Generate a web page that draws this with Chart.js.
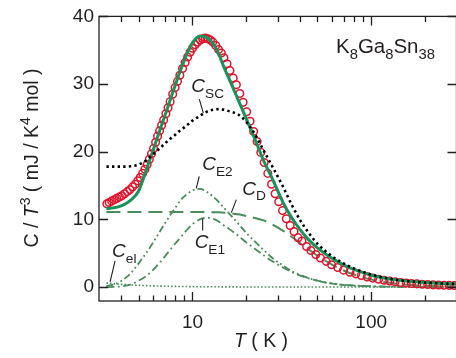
<!DOCTYPE html>
<html>
<head>
<meta charset="utf-8">
<script src="https://cdn.jsdelivr.net/npm/chart.js@4.4.1/dist/chart.umd.min.js"></script>
<style>
  html, body { margin: 0; padding: 0; overflow: hidden; background: #fff; }
  #wrap { width: 462px; height: 358px; }
</style>
</head>
<body>
<div id="wrap"><canvas id="heatChart"></canvas></div>
<script>
// measured C/T^3 (mJ / K^4 mol) vs T (K)
const tempData = [3.32, 3.42, 3.53, 3.65, 3.77, 3.9, 4.02, 4.17, 4.32, 4.47, 4.62, 4.78, 4.94, 5.1, 5.26, 5.42,
  5.58, 5.74, 5.9, 6.06, 6.22, 6.38, 6.55, 6.72, 6.9, 7.1, 7.3, 7.5, 7.75, 8.0, 8.25, 8.5, 8.8, 9.1, 9.4, 9.7,
  10.0, 10.35, 10.7, 11.05, 11.4, 11.8, 12.2, 12.6, 13.0, 13.5, 14.0, 14.5, 15.0, 15.6, 16.2, 16.9, 17.6, 18.4,
  19.2, 20.1, 21.0, 22.0, 23.0, 24.1, 25.2, 26.4, 27.7, 29.0, 30.4, 31.9, 33.5, 35.2, 37.0, 39.0, 41.0, 43.5,
  46, 49, 52, 56, 60, 65, 70, 76, 82, 88, 95, 102, 110, 118, 127, 136, 146, 157, 168, 180, 193, 207, 222, 238,
  255, 273, 292];
const cData = [12.3, 12.5, 12.7, 12.9, 13.1, 13.3, 13.5, 13.8, 14.1, 14.4, 14.8, 15.2, 15.7, 16.2, 16.8, 17.4,
  18.1, 18.9, 19.7, 20.5, 21.4, 22.3, 23.1, 23.9, 24.7, 25.6, 26.5, 27.4, 28.5, 29.5, 30.4, 31.3, 32.3, 33.2, 34.0, 34.7,
  35.3, 35.8, 36.2, 36.5, 36.7, 36.8, 36.7, 36.5, 36.2, 35.7, 35.1, 34.6, 33.9, 33.0, 32.0, 30.9, 29.9, 28.6,
  27.3, 25.9, 24.5, 23.0, 21.5, 19.9, 18.4, 16.8, 15.2, 13.8, 12.6, 11.3, 10.1, 9.1, 8.2, 7.3, 6.8, 6.0,
  5.4, 4.8, 4.3, 3.8, 3.3, 2.9, 2.5, 2.2, 1.95, 1.72, 1.5, 1.32, 1.15, 1.0, 0.88, 0.78, 0.68, 0.6, 0.53, 0.47, 0.42, 0.37, 0.33, 0.3,
  0.27, 0.25, 0.23];

// model curves on a common temperature grid
const tempFit = [3.3, 3.6, 4, 4.5, 5, 5.5, 6, 6.5, 7, 7.5, 8, 8.5, 9, 9.5, 10, 11, 12, 13, 14, 15, 16, 18, 20, 22,
  25, 28, 32, 36, 40, 45, 50, 60, 70, 80, 100, 120, 150, 200, 250, 300];
const cTotal = [11.6, 11.7, 12.0, 12.8, 14.2, 17.2, 20.1, 22.8, 25.3, 27.6, 29.8, 31.8, 33.5, 35.0, 36.1, 37.1, 36.9, 36.0, 34.5, 32.5, 30.8, 27.7, 24.9, 22.3,
  18.7, 16.0, 12.6, 10.2, 8.5, 6.9, 5.8, 4.3, 3.3, 2.6, 1.75, 1.3, 0.95, 0.68, 0.53, 0.45];
const cSC = [17.8, 17.8, 17.8, 17.85, 18.1, 18.7, 19.6, 20.4, 21.2, 21.9, 22.5, 23.1, 23.6, 24.1, 24.6, 25.3, 25.9, 26.2, 26.3, 26.2, 26.0, 25.5, 24.4, 22.9,
  20.2, 17.8, 14.9, 12.1, 9.9, 7.9, 6.4, 4.6, 3.5, 2.75, 1.85, 1.35, 0.95, 0.66, 0.53, 0.46];
const cDebye = [11.1, 11.1, 11.1, 11.1, 11.1, 11.1, 11.1, 11.1, 11.1, 11.1, 11.1, 11.1, 11.1, 11.1, 11.1, 11.1, 11.1, 11.05, 11.05, 11.0, 10.95, 10.75, 10.5, 10.25,
  9.85, 9.25, 8.35, 7.4, 6.5, 5.5, 4.65, 3.35, 2.45, 1.85, 1.1, 0.7, 0.4, 0.18, 0.1, 0.06];
const cE2 = [0.15, 0.35, 0.9, 2.0, 3.5, 5.0, 6.5, 8.0, 9.4, 10.6, 11.7, 12.7, 13.4, 13.9, 14.3, 14.5, 14.1, 13.4, 12.6, 11.7, 10.9, 9.4, 8.0, 6.9,
  5.5, 4.3, 3.2, 2.35, 1.8, 1.3, 0.95, 0.5, 0.3, 0.2, 0.09, 0.05, 0.02, 0.01, 0, 0];
const cE1 = [0, 0.02, 0.1, 0.35, 0.95, 1.6, 2.5, 3.5, 4.5, 5.5, 6.4, 7.2, 8.0, 8.7, 9.3, 10.0, 10.25, 10.1, 9.7, 9.1, 8.6, 7.6, 6.6, 5.8,
  4.7, 3.8, 2.9, 2.2, 1.7, 1.25, 0.95, 0.55, 0.35, 0.24, 0.12, 0.07, 0.03, 0.01, 0, 0];
const cEl = [0.6, 0.5, 0.4, 0.32, 0.26, 0.21, 0.18, 0.15, 0.13, 0.11, 0.1, 0.09, 0.08, 0.07, 0.06, 0.05, 0.045, 0.04, 0.035, 0.03, 0.025, 0.02, 0.018, 0.015,
  0.012, 0.01, 0.01, 0.01, 0.01, 0.01, 0.01, 0.01, 0.01, 0.01, 0.01, 0.01, 0.01, 0.01, 0.01, 0.01];

const xMajorTicks = [10, 100];
const xMinorTicks = [4, 5, 6, 7, 8, 9, 20, 30, 40, 50, 60, 70, 80, 90, 200];
const yTicks = [0, 10, 20, 30, 40];

const INK = "#231f20";
const RED = "#e3132c";
const GREEN = "#17945a";
const SOFT = "#4a8c5c";
const FONT = '"Liberation Sans", Arial, Helvetica, sans-serif';

const pts = (xs, ys) => xs.map((x, i) => ({ x: x, y: ys[i] }));

// text runs: {t, it, sub, sup}
function drawRun(ctx, x, y, parts, size) {
  parts.forEach(p => {
    const s = (p.sub || p.sup) ? size * 0.72 : size;
    ctx.font = (p.it ? "italic " : "") + s + "px " + FONT;
    const dy = p.sub ? size * 0.3 : (p.sup ? -size * 0.42 : 0);
    ctx.fillText(p.t, x, y + dy);
    x += ctx.measureText(p.t).width;
  });
  return x;
}
function runWidth(ctx, parts, size) {
  let w = 0;
  parts.forEach(p => {
    const s = (p.sub || p.sup) ? size * 0.72 : size;
    ctx.font = (p.it ? "italic " : "") + s + "px " + FONT;
    w += ctx.measureText(p.t).width;
  });
  return w;
}

// curve labels, anchored on the curve in data units; offsets in px
const curveLabels = [
  { sub: "SC", t: 11.5, c: 25.7, from: [-4, -14], text: [-12, -21] },
  { sub: "E2", t: 10.5, c: 14.6, from: [3, -12], text: [6, -18] },
  { sub: "D", t: 16.5, c: 11.0, from: [5, -13], text: [11, -18] },
  { sub: "E1", t: 11.4, c: 10.15, from: [0, 12], text: [-8, 30] },
  { sub: "el", t: 3.46, c: 0.75, from: [5, -21], text: [2, -25] }
];

const framePlugin = {
  id: "frame",
  afterDraw(chart) {
    const { ctx, chartArea: a } = chart;
    const x = chart.scales.x, y = chart.scales.y;
    ctx.save();
    ctx.strokeStyle = INK;
    ctx.lineWidth = 1.3;
    ctx.strokeRect(a.left, a.top, a.right - a.left, a.bottom - a.top);
    ctx.beginPath();
    const vTick = (v, len) => {
      const px = Math.round(x.getPixelForValue(v)) + 0.5;
      ctx.moveTo(px, a.bottom); ctx.lineTo(px, a.bottom - len);
      ctx.moveTo(px, a.top); ctx.lineTo(px, a.top + len);
    };
    xMajorTicks.forEach(v => vTick(v, 9));
    xMinorTicks.forEach(v => vTick(v, 5.5));
    yTicks.forEach(v => {
      const py = Math.round(y.getPixelForValue(v)) + 0.5;
      ctx.moveTo(a.left, py); ctx.lineTo(a.left + 9, py);
      ctx.moveTo(a.right, py); ctx.lineTo(a.right - 9, py);
    });
    ctx.stroke();

    // curve labels
    ctx.fillStyle = INK;
    ctx.lineWidth = 1.1;
    ctx.textBaseline = "alphabetic";
    ctx.textAlign = "left";
    curveLabels.forEach(l => {
      const px = x.getPixelForValue(l.t), py = y.getPixelForValue(l.c);
      ctx.beginPath();
      ctx.moveTo(px + l.from[0], py + l.from[1]);
      ctx.lineTo(px, py);
      ctx.stroke();
      drawRun(ctx, px + l.text[0], py + l.text[1], [{ t: "C", it: true }, { t: l.sub, sub: true }], 19);
    });

    // compound name
    drawRun(ctx, 336, 53, [{ t: "K" }, { t: "8", sub: true }, { t: "Ga" }, { t: "8", sub: true }, { t: "Sn" }, { t: "38", sub: true }], 20.5);

    // x title
    const xt = [{ t: "T", it: true }, { t: " ( K )" }];
    drawRun(ctx, 261 - runWidth(ctx, xt, 19.5) / 2, 347, xt, 19.5);

    // y title
    const yt = [{ t: "C" }, { t: " / " }, { t: "T", it: true }, { t: "3", sup: true }, { t: " ( mJ / K" }, { t: "4", sup: true }, { t: " mol )" }];
    const w = runWidth(ctx, yt, 19.5);
    ctx.translate(38, 158 + w / 2);
    ctx.rotate(-Math.PI / 2);
    drawRun(ctx, 0, 0, yt, 19.5);
    ctx.restore();
  }
};

const curve = (data, color, width, dash, order) => ({
  data: data, showLine: true, borderColor: color, borderWidth: width, borderDash: dash,
  pointRadius: 0, cubicInterpolationMode: "monotone", fill: false, order: order
});

new Chart(document.getElementById("heatChart"), {
  type: "scatter",
  data: {
    datasets: [
      curve(pts(tempFit, cSC), "#000", 2.6, [2.4, 3.2], 0),
      curve(pts(tempFit, cTotal), GREEN, 3, [], 1),
      {
        data: pts(tempData, cData), showLine: false, pointRadius: 3.8, pointBorderWidth: 1.5,
        pointBorderColor: RED, pointBackgroundColor: "rgba(0,0,0,0)", order: 2
      },
      curve(pts(tempFit, cDebye), SOFT, 2, [14, 7], 3),
      curve(pts(tempFit, cE2), SOFT, 1.8, [7, 3, 1.8, 3, 1.8, 3], 4),
      curve(pts(tempFit, cE1), SOFT, 1.8, [8, 3.5, 1.8, 3.5], 5),
      curve(pts(tempFit, cEl), SOFT, 1.6, [1.6, 2], 6)
    ]
  },
  options: {
    responsive: true,
    maintainAspectRatio: false,
    animation: false,
    layout: { padding: { top: 14, right: 3, left: 0, bottom: 0 } },
    plugins: { legend: { display: false }, tooltip: { enabled: false } },
    scales: {
      x: {
        type: "logarithmic",
        min: 3, max: 300,
        grid: { display: false, drawTicks: false },
        border: { display: false },
        afterBuildTicks: s => { s.ticks = xMajorTicks.map(v => ({ value: v })); },
        afterFit: s => { s.height = 57; },
        ticks: {
          padding: 10, color: INK, font: { family: FONT, size: 19 },
          callback: v => String(v), maxRotation: 0, autoSkip: false
        }
      },
      y: {
        min: -2.06, max: 40,
        grid: { display: false, drawTicks: false },
        border: { display: false },
        afterBuildTicks: s => { s.ticks = yTicks.map(v => ({ value: v })); },
        afterFit: s => { s.width = 99; },
        ticks: { padding: 5, color: INK, font: { family: FONT, size: 19 } }
      }
    }
  },
  plugins: [framePlugin]
});
</script>
</body>
</html>
